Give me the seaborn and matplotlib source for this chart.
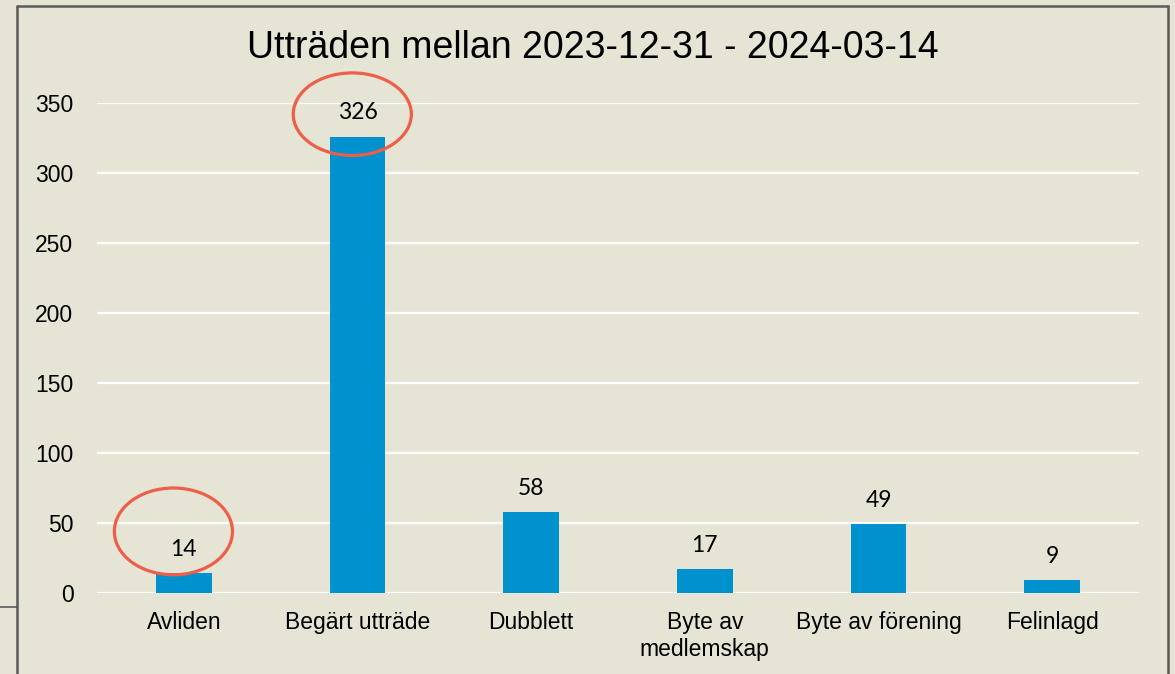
import matplotlib
matplotlib.use("Agg")
import matplotlib.pyplot as plt
import seaborn as sns
import pandas as pd
from matplotlib.patches import Ellipse
from matplotlib.lines import Line2D

# data
categories = ["Avliden", "Begärt utträde", "Dubblett", "Byte av\nmedlemskap", "Byte av förening", "Felinlagd"]
values = [14, 326, 58, 17, 49, 9]
yticks = [0, 50, 100, 150, 200, 250, 300, 350]
title = "Utträden mellan 2023-12-31 - 2024-03-14"

bg = "#E6E5D5"
bar_col = "#0092CF"
red = "#EE5E48"

sns.set_style("white")
plt.rcParams["font.family"] = ["Liberation Sans", "DejaVu Sans"]
plt.rcParams["text.color"] = "black"
plt.rcParams["xtick.color"] = "black"
plt.rcParams["ytick.color"] = "black"

df = pd.DataFrame({"kategori": categories, "antal": values})

fig = plt.figure(figsize=(11.75, 6.74), dpi=100, facecolor=bg)
ax = fig.add_axes([97 / 1175, 1 - 593 / 674, (1139 - 97) / 1175, (593 - 103) / 674])
ax.set_facecolor(bg)

sns.barplot(data=df, x="kategori", y="antal", color=bar_col, width=0.32,
            saturation=1, linewidth=0, ax=ax, zorder=3)

ax.set_ylim(0, 350)
ax.set_xlim(-0.5, 5.5)
ax.set_yticks(yticks)
ax.grid(axis="y", color="white", linewidth=1.6, zorder=0)
ax.set_axisbelow(True)
for s in ax.spines.values():
    s.set_visible(False)
ax.set_xlabel("")
ax.set_ylabel("")
ax.tick_params(axis="y", length=0, pad=17, labelsize=16.5, labelcolor="black")
ax.tick_params(axis="x", length=0, pad=13, labelsize=16.5, labelcolor="black")

# value labels
for i, v in enumerate(values):
    ax.annotate(str(v), (i, v), xytext=(0, 17), textcoords="offset points",
                ha="center", va="center", fontsize=16.5, family="Lato", color="black")

# red rings
ax.add_patch(Ellipse((-0.06, 44), 0.68, 62, fill=False, edgecolor=red,
                     linewidth=2.3, clip_on=False, zorder=5))
ax.add_patch(Ellipse((0.97, 342), 0.68, 59, fill=False, edgecolor=red,
                     linewidth=2.3, clip_on=False, zorder=5))

fig.text(593 / 1175, 1 - 48 / 674, title, ha="center", va="center", fontsize=27, color="black")

# frame lines
W, H = 1175, 674
gray = "#5A5A5A"
fig.add_artist(Line2D([17 / W, 17 / W], [0, 1 - 6 / H], color=gray, linewidth=1.8))
fig.add_artist(Line2D([17 / W, 1168 / W], [1 - 6 / H, 1 - 6 / H], color=gray, linewidth=1.8))
fig.add_artist(Line2D([1168 / W, 1168 / W], [0, 1 - 6 / H], color=gray, linewidth=1.8))
fig.add_artist(Line2D([0, 17 / W], [1 - 607 / H, 1 - 607 / H], color=gray, linewidth=1.2))

fig.savefig("out.png", dpi=100, facecolor=bg)
